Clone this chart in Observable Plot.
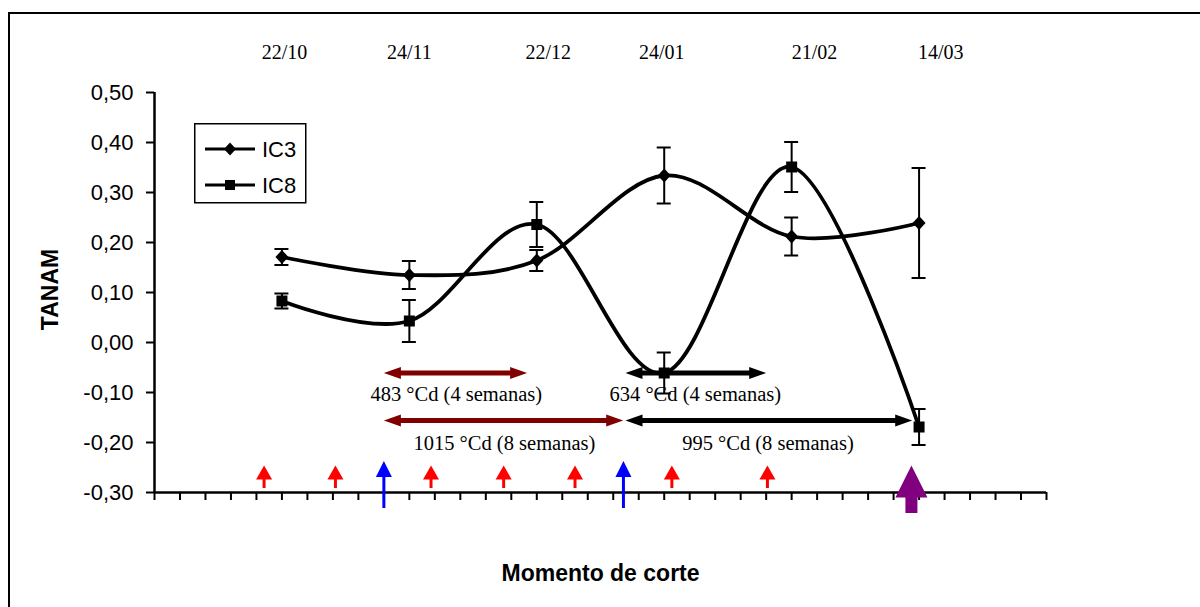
<!DOCTYPE html>
<html><head><meta charset="utf-8">
<script src="https://cdn.jsdelivr.net/npm/d3@7"></script>
<script src="https://cdn.jsdelivr.net/npm/@observablehq/plot@0.6"></script>
<style>
body{margin:0;background:#fff;}
#wrap{position:relative;width:1200px;height:607px;overflow:hidden;background:#fff;}
#frame{position:absolute;left:8px;top:12px;width:1300px;height:700px;border:2px solid #000;}
#chart{position:absolute;left:0;top:0;}
#legend{position:absolute;left:194px;top:123px;}
</style></head><body>
<div id="wrap"><div id="frame"></div><div id="chart"></div>
<svg id="legend" width="113" height="81" font-family="Liberation Sans, Arial, sans-serif">
  <rect x="0.75" y="0.75" width="111" height="79" fill="#fff" stroke="#000" stroke-width="1.5"/>
  <line x1="11" x2="61" y1="26" y2="26" stroke="#000" stroke-width="3"/>
  <path d="M36,19.5L42,26L36,32.5L30,26Z" fill="#000"/>
  <text x="68" y="26" dy="0.36em" font-size="22">IC3</text>
  <line x1="11" x2="61" y1="62" y2="62" stroke="#000" stroke-width="3"/>
  <rect x="31" y="57" width="10" height="10" fill="#000"/>
  <text x="68" y="62" dy="0.36em" font-size="22">IC8</text>
</svg>
</div>
<script>
// ---- data ----
const weeks = [5, 10, 15, 20, 25, 30];
const dateLabels = ["22/10", "24/11", "22/12", "24/01", "21/02", "14/03"];
const dateLabelX = [5.1, 10.0, 15.45, 19.9, 25.9, 30.85];
const ic3 = [0.171, 0.135, 0.164, 0.334, 0.212, 0.239];
const ic3Err = [0.016, 0.028, 0.021, 0.056, 0.038, 0.11];
const ic8 = [0.083, 0.043, 0.236, -0.061, 0.351, -0.169];
const ic8Err = [0.015, 0.042, 0.045, 0.041, 0.05, 0.036];
const yTicks = [-0.3, -0.2, -0.1, 0, 0.1, 0.2, 0.3, 0.4, 0.5];
const xTicks = d3.range(0, 36);
const redArrowX = [4.3, 7.1, 10.85, 13.7, 16.5, 20.3, 24.05];
const blueArrowX = [9.0, 18.4];
const purpleArrowX = [29.7];
const smallArrowTip = -0.246, smallArrowShaftTop = -0.265, smallArrowBase = -0.292;
const blueArrowTip = -0.237, blueArrowShaftTop = -0.26, blueArrowBase = -0.332;
const purpleArrowTip = -0.246, purpleArrowShaftTop = -0.29, purpleArrowBase = -0.342;
const spanLabels = ["483 °Cd (4 semanas)", "1015 °Cd (8 semanas)", "634 °Cd (4 semanas)", "995 °Cd (8 semanas)"];
const spanPeriod = ["first", "first", "second", "second"];
const spanStart = [9.0, 9.0, 18.48, 18.48];
const spanEnd = [14.62, 18.39, 24.0, 29.73];
const spanY = [-0.061, -0.156, -0.061, -0.156];
const spanLabelX = [11.84, 13.73, 21.22, 24.07];
const spanLabelY = [-0.104, -0.202, -0.104, -0.202];

// ---- tables ----
const points = [];
weeks.forEach((w, i) => {
  points.push({serie: "IC3", x: w, y: ic3[i], lo: ic3[i] - ic3Err[i], hi: ic3[i] + ic3Err[i]});
});
weeks.forEach((w, i) => {
  points.push({serie: "IC8", x: w, y: ic8[i], lo: ic8[i] - ic8Err[i], hi: ic8[i] + ic8Err[i]});
});
const dates = dateLabels.map((d, i) => ({label: d, x: dateLabelX[i]}));
const spans = spanLabels.map((l, i) => ({label: l, period: spanPeriod[i], x1: spanStart[i], x2: spanEnd[i], y: spanY[i], lx: spanLabelX[i], ly: spanLabelY[i]}));
const spanColor = {first: "#800000", second: "#000000"};

// ---- symbols ----
const triUp = (w, h) => ({draw(c) { c.moveTo(0, 0); c.lineTo(w / 2, h); c.lineTo(-w / 2, h); c.closePath(); }});
const triLeft = (l, h) => ({draw(c) { c.moveTo(0, 0); c.lineTo(l, -h / 2); c.lineTo(l, h / 2); c.closePath(); }});
const triRight = (l, h) => ({draw(c) { c.moveTo(0, 0); c.lineTo(-l, -h / 2); c.lineTo(-l, h / 2); c.closePath(); }});
const diamond = {draw(c) { c.moveTo(0, -7); c.lineTo(6.5, 0); c.lineTo(0, 7); c.lineTo(-6.5, 0); c.closePath(); }};
const square = {draw(c) { c.rect(-5.5, -5.5, 11, 11); }};

const sans = "Liberation Sans, Arial, sans-serif";
const serif = "Liberation Serif, Times New Roman, serif";

const chart = Plot.plot({
  width: 1200, height: 607,
  marginLeft: 154, marginRight: 154, marginTop: 92, marginBottom: 115,
  style: {background: "transparent", color: "#000"},
  x: {domain: [0, 35], label: null},
  y: {domain: [-0.3, 0.5], label: null},
  marks: [
    Plot.axisY({ticks: yTicks, tickFormat: d => d.toFixed(2).replace(".", ","), tickSize: 8, tickPadding: 13,
      fontSize: 22, fontFamily: sans, strokeWidth: 2, label: null}),
    Plot.axisX({ticks: xTicks, tickFormat: () => "", tickSize: 8, strokeWidth: 2, label: null}),
    Plot.ruleX([0], {strokeWidth: 2.5}),
    Plot.ruleY([-0.3], {strokeWidth: 2.5}),
    Plot.text(dates, {x: "x", text: "label", frameAnchor: "top", dy: -40, lineAnchor: "middle", fontSize: 20, fontFamily: serif}),
    Plot.text(["TANAM"], {frameAnchor: "left", dx: -103.5, dy: -3, rotate: -90, textAnchor: "middle", lineAnchor: "middle", fontSize: 23, fontWeight: "bold", fontFamily: sans}),
    Plot.text(["Momento de corte"], {frameAnchor: "bottom", dy: 81.5, lineAnchor: "middle", fontSize: 23, fontWeight: "bold", fontFamily: sans}),
    // small arrows
    Plot.ruleX(redArrowX, {x: d => d, y1: smallArrowShaftTop, y2: smallArrowBase, stroke: "#ff0000", strokeWidth: 3}),
    Plot.dot(redArrowX, {x: d => d, y: smallArrowTip, symbol: triUp(16, 14), fill: "#ff0000", stroke: "none"}),
    Plot.ruleX(blueArrowX, {x: d => d, y1: blueArrowShaftTop, y2: blueArrowBase, stroke: "#0000ff", strokeWidth: 3}),
    Plot.dot(blueArrowX, {x: d => d, y: blueArrowTip, symbol: triUp(16, 16), fill: "#0000ff", stroke: "none"}),
    Plot.ruleX(purpleArrowX, {x: d => d, y1: purpleArrowShaftTop, y2: purpleArrowBase, stroke: "#800080", strokeWidth: 12}),
    Plot.dot(purpleArrowX, {x: d => d, y: purpleArrowTip, symbol: triUp(32, 32), fill: "#800080", stroke: "none"}),
    // span double arrows
    Plot.ruleY(spans, {y: "y", x1: "x1", x2: "x2", insetLeft: 12, insetRight: 12, stroke: d => spanColor[d.period], strokeWidth: 5}),
    Plot.dot(spans, {x: "x1", y: "y", symbol: triLeft(17, 12), fill: d => spanColor[d.period], stroke: "none"}),
    Plot.dot(spans, {x: "x2", y: "y", symbol: triRight(17, 12), fill: d => spanColor[d.period], stroke: "none"}),
    Plot.text(spans, {x: "lx", y: "ly", text: "label", fontSize: 20.5, fontFamily: serif, fill: "#000"}),
    // series
    Plot.line(points, {x: "x", y: "y", z: "serie", curve: "cardinal", stroke: "#000", strokeWidth: 3.8}),
    Plot.ruleX(points, {x: "x", y1: "lo", y2: "hi", stroke: "#000", strokeWidth: 2}),
    Plot.ruleY(points, {y: "hi", x1: "x", x2: "x", insetLeft: -7, insetRight: -7, stroke: "#000", strokeWidth: 2}),
    Plot.ruleY(points, {y: "lo", x1: "x", x2: "x", insetLeft: -7, insetRight: -7, stroke: "#000", strokeWidth: 2}),
    Plot.dot(points.filter(d => d.serie === "IC3"), {x: "x", y: "y", symbol: diamond, fill: "#000", stroke: "none"}),
    Plot.dot(points.filter(d => d.serie === "IC8"), {x: "x", y: "y", symbol: square, fill: "#000", stroke: "none"})
  ]
});
document.getElementById("chart").appendChild(chart);
</script>
</body></html>
